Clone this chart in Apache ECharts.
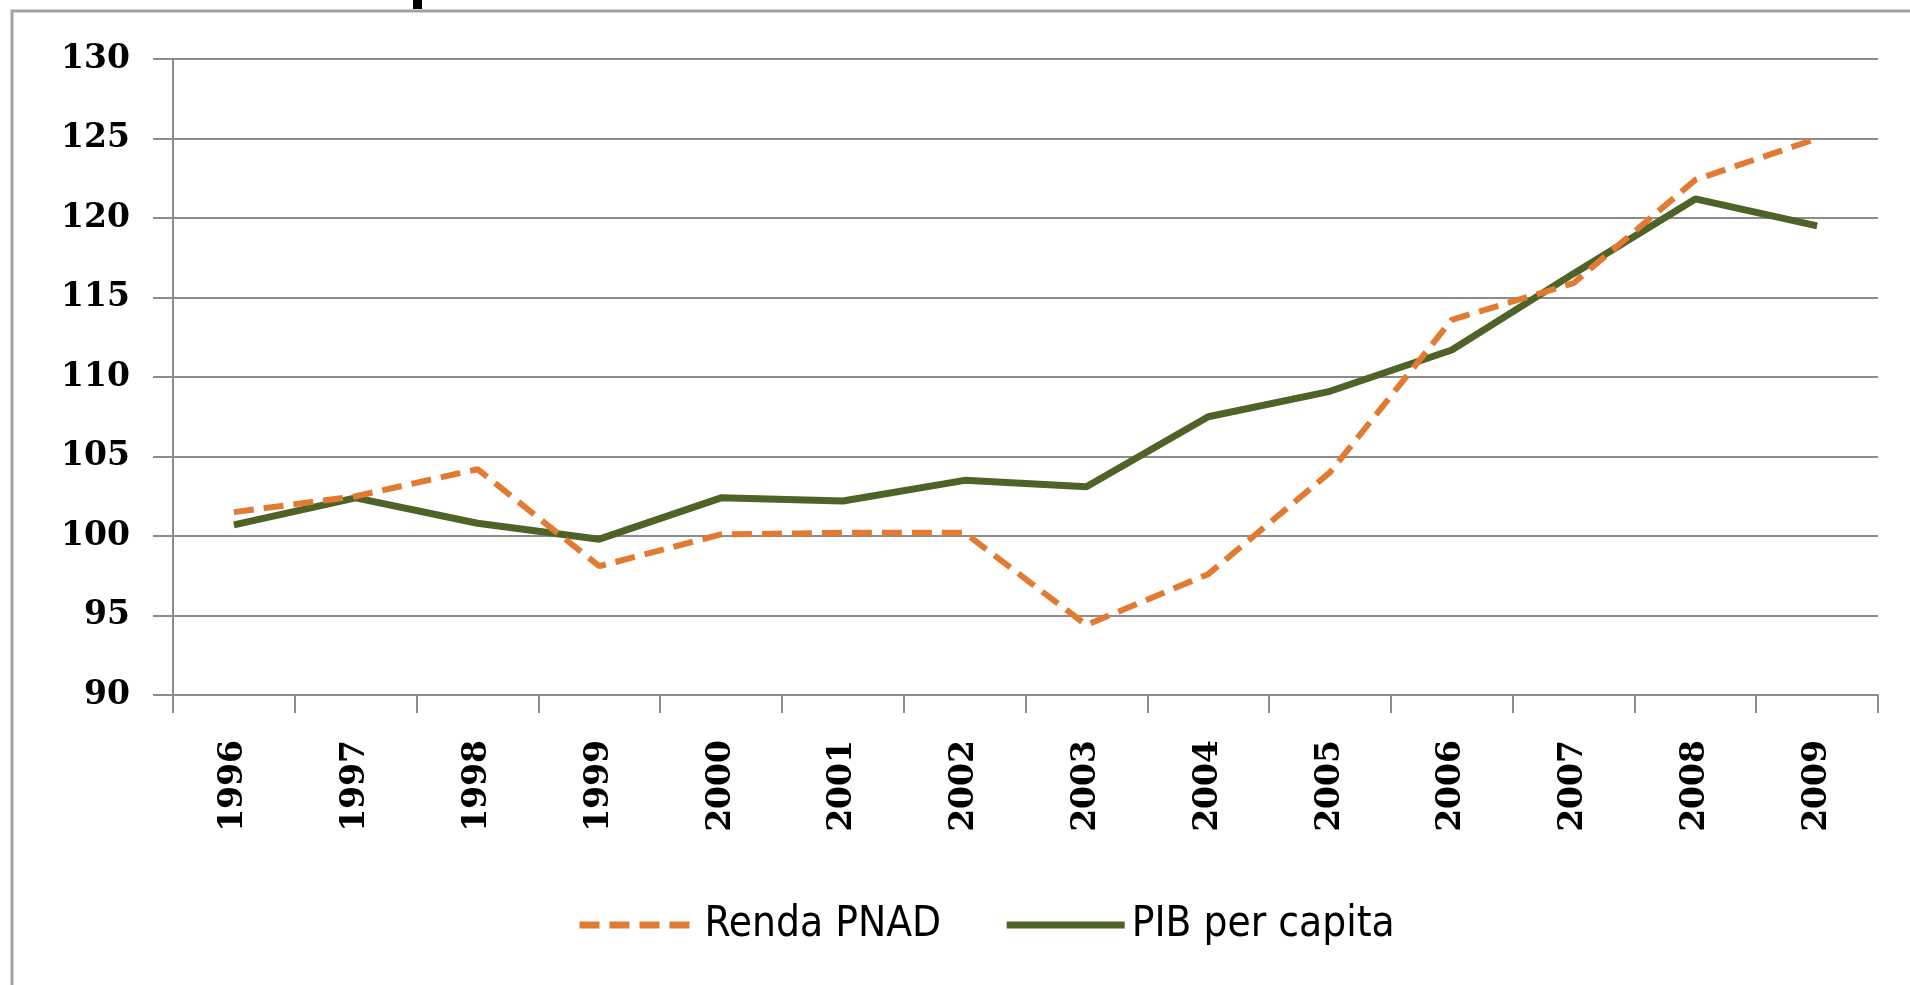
<!DOCTYPE html>
<html>
<head>
<meta charset="utf-8">
<title>Renda PNAD x PIB per capita</title>
<script src="https://cdn.jsdelivr.net/npm/echarts@6/dist/echarts.min.js"></script>
<style>
  html, body { margin: 0; padding: 0; background: #ffffff; }
  #chart { width: 1910px; height: 985px; }
</style>
</head>
<body>
<div id="chart"></div>
<script>
// anos (eixo X)
const years = ['1996', '1997', '1998', '1999', '2000', '2001', '2002',
               '2003', '2004', '2005', '2006', '2007', '2008', '2009'];
// índice
const rendaPnad = [101.5, 102.5, 104.2, 98.1, 100.1, 100.2, 100.2,
                   94.4, 97.6, 104.0, 113.6, 115.9, 122.4, 125.0];
const pibPerCapita = [100.7, 102.4, 100.8, 99.8, 102.4, 102.2, 103.5,
                      103.1, 107.5, 109.1, 111.7, 116.5, 121.2, 119.5];
const yMin = 90, yMax = 130, yStep = 5;

const ORANGE = '#e27b32';
const GREEN = '#4f6228';
const GRID_GRAY = '#8c8c8c';
const labelFont = 'DejaVu Serif';

const chart = echarts.init(document.getElementById('chart'));

chart.setOption({
  animation: false,
  backgroundColor: '#ffffff',
  grid: { left: 173, right: 32, top: 59, bottom: 290, containLabel: false },
  legend: {
    left: 571,
    top: 899,
    itemWidth: 118,
    itemHeight: 20,
    itemGap: 62,
    data: ['Renda PNAD', 'PIB per capita'],
    itemStyle: { opacity: 0, borderWidth: 0 },
    lineStyle: { width: 7 },
    textStyle: {
      fontFamily: '"Liberation Sans Narrow", "DejaVu Sans Condensed", sans-serif',
      fontSize: 42,
      color: '#000',
      padding: [0, 0, 0, 2],
    },
  },
  xAxis: {
    type: 'category',
    data: years,
    boundaryGap: true,
    axisLine: { lineStyle: { color: GRID_GRAY, width: 2 } },
    axisTick: { show: true, length: 18, lineStyle: { color: GRID_GRAY, width: 2 } },
    axisLabel: {
      rotate: 90,
      margin: 45,
      fontFamily: labelFont,
      fontWeight: 'bold',
      fontSize: 33,
      color: '#000',
      interval: 0,
    },
  },
  yAxis: {
    type: 'value',
    min: yMin,
    max: yMax,
    interval: yStep,
    axisLine: { show: true, lineStyle: { color: GRID_GRAY, width: 2 } },
    axisTick: { show: true, length: 20, lineStyle: { color: GRID_GRAY, width: 2 } },
    axisLabel: {
      margin: 43,
      fontFamily: labelFont,
      fontWeight: 'bold',
      fontSize: 33,
      color: '#000',
    },
    splitLine: { lineStyle: { color: GRID_GRAY, width: 2 } },
  },
  series: [
    {
      name: 'Renda PNAD',
      type: 'line',
      data: rendaPnad,
      symbol: 'none',
      lineStyle: { color: ORANGE, width: 6, type: [20, 10] },
      itemStyle: { color: ORANGE },
      z: 3,
    },
    {
      name: 'PIB per capita',
      type: 'line',
      data: pibPerCapita,
      symbol: 'none',
      lineStyle: { color: GREEN, width: 7 },
      itemStyle: { color: GREEN },
      z: 2,
    },
  ],
  graphic: [
    // moldura do gráfico (cortada à direita e embaixo)
    {
      type: 'rect',
      shape: { x: 12, y: 11, width: 2000, height: 2000 },
      style: { fill: 'none', stroke: '#a3a3a3', lineWidth: 3 },
      silent: true,
    },
    // fragmento do título cortado no topo
    {
      type: 'rect',
      shape: { x: 413, y: 0, width: 9, height: 9 },
      style: { fill: '#000' },
      silent: true,
    },
  ],
});
</script>
</body>
</html>
